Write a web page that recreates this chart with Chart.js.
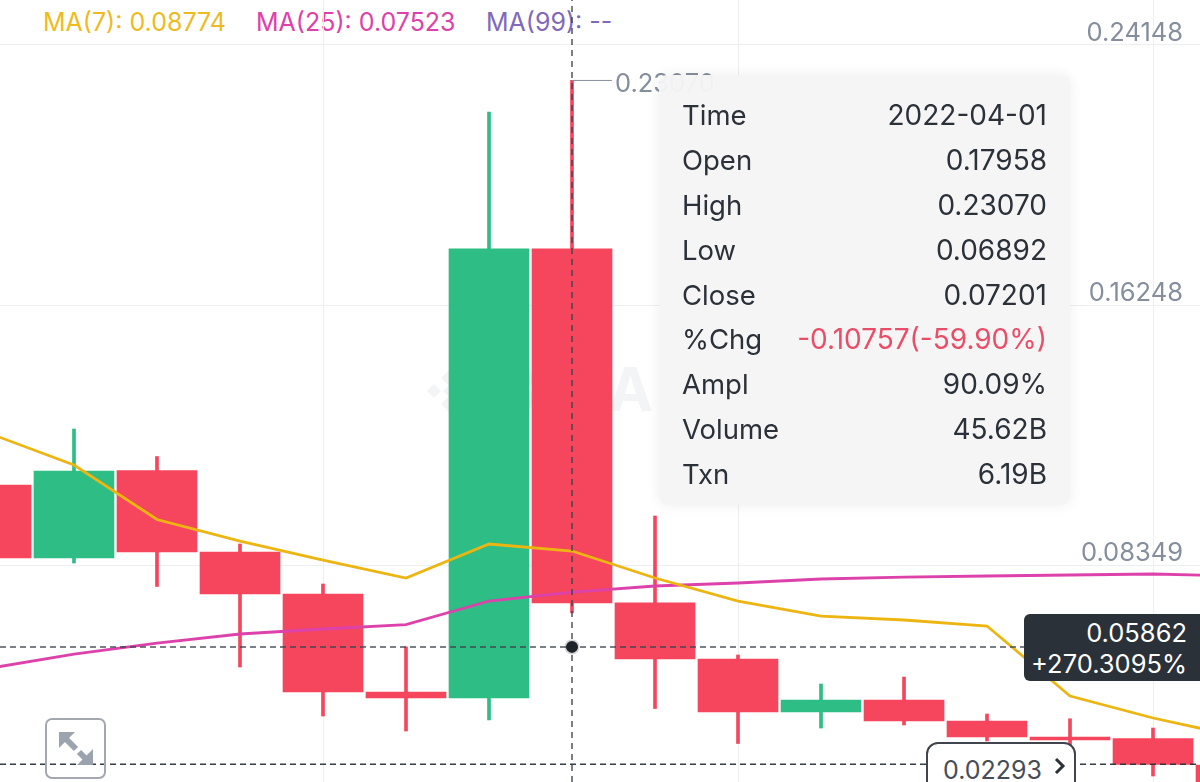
<!DOCTYPE html>
<html>
<head>
<meta charset="utf-8">
<title>Candles</title>
<script src="https://cdn.jsdelivr.net/npm/chart.js@4"></script>
<style>
	html, body { margin: 0; padding: 0; background: #fff; overflow: hidden; }
	body { width: 1200px; height: 782px; position: relative; font-family: Inter, sans-serif; }
	canvas { position: absolute; left: 0; top: 0; z-index: 1; }
	.mark { position: absolute; z-index: 0; color: #f3f4f5; }
	#logo { left: 426px; top: 368px; width: 46px; height: 46px; }
	#wordmark { left: 497px; top: 354px; font-size: 60px; font-weight: 700; letter-spacing: 3px; line-height: 70px; white-space: nowrap; }
	#legend { position: absolute; z-index: 0; left: 0; top: 0; font-size: 25px; line-height: 44px; white-space: nowrap; }
	#legend span { position: absolute; top: 0; }
	#highLabel { position: absolute; z-index: 2; left: 615px; top: 68px; font-size: 25.5px; line-height: 30px; color: #848e9c; }
	#panel { position: absolute; z-index: 3; left: 659px; top: 75px; width: 411px; height: 430px; box-sizing: border-box; padding: 18px 23px 0 23px; border-radius: 8px; background: rgba(245, 245, 246, 0.97); box-shadow: 0 0 14px rgba(30, 35, 41, 0.07); }
	#panel div { display: flex; justify-content: space-between; height: 44.9px; line-height: 45px; font-size: 27.5px; color: #2b3139; }
	#panel div span + span { font-size: 28px; }
	#tag { position: absolute; z-index: 3; left: 1024px; top: 614px; width: 176px; height: 67px; box-sizing: border-box; padding: 3px 13px 0 0; border-radius: 6px 0 0 6px; background: #2b3139; color: #fff; font-size: 25.5px; line-height: 31px; text-align: right; }
	#lastPrice { position: absolute; z-index: 3; left: 926px; top: 742px; width: 150px; height: 60px; box-sizing: border-box; padding: 9px 0 0 15px; border: 2px solid #3f444d; border-radius: 12px; background: #fff; color: #474d57; font-size: 25px; line-height: 34px; }
	#lastPrice svg { position: absolute; left: 125px; top: 12px; }
	#expand { position: absolute; z-index: 3; left: 45px; top: 718px; width: 61px; height: 61px; box-sizing: border-box; border: 2px solid #a3a8b0; border-radius: 7px; }
	#expand svg { position: absolute; left: -2px; top: -2px; }
</style>
</head>
<body>
<svg id="logo" class="mark" viewBox="0 0 46 46"><g fill="#f3f4f5"><path d="M23 2l8 8-8 8-8-8z"/><path d="M8 16l7 7-7 7-7-7z"/><path d="M23 28l8 8-8 8-8-8z"/><path d="M23 17l6 6-6 6-6-6z"/></g></svg>
<div id="wordmark" class="mark">BINANCE</div>
<div id="legend"></div>
<canvas id="candles" width="1200" height="782"></canvas>
<div id="highLabel"></div>
<div id="panel"></div>
<div id="tag"></div>
<div id="lastPrice"><svg width="14" height="20" viewBox="0 0 14 20"><path d="M3 3l7 7-7 7" fill="none" stroke="#2b3139" stroke-width="3"/></svg></div>
<div id="expand"><svg width="61" height="61" viewBox="0 0 61 61"><g fill="#9aa3ae" stroke="none"><path d="M14 14h16L14 30z"/><path d="M32 47h16V31z"/></g><g stroke="#9aa3ae" stroke-width="6"><path d="M21 21l10 10"/><path d="M34 34l8 8"/></g></svg></div>

<script>
const candleIndex = [0, 1, 2, 3, 4, 5, 6, 7, 8, 9, 10, 11, 12, 13, 14, 15];
const opens = [0.10779, 0.08562, 0.1122, 0.08744, 0.07468, 0.04491, 0.04308, 0.17958, 0.07201, 0.05493, 0.03883, 0.04248, 0.03609, 0.03123, 0.03078, 0.02272];
const closes = [0.08562, 0.11205, 0.08744, 0.07468, 0.04491, 0.04308, 0.17958, 0.07201, 0.05493, 0.03883, 0.04248, 0.03609, 0.03123, 0.03032, 0.02293, 0.015];
const highs = [0.1087, 0.12481, 0.11645, 0.08987, 0.07772, 0.05862, 0.22112, 0.2307, 0.09838, 0.05615, 0.04734, 0.04946, 0.03822, 0.03679, 0.03397, 0.02293];
const lows = [0.08562, 0.0841, 0.07696, 0.0525, 0.03761, 0.03306, 0.0364, 0.06892, 0.03989, 0.02926, 0.03397, 0.03488, 0.03002, 0.0288, 0.01939, 0.015];
const ma7 = [0.12329, 0.11387, 0.09731, 0.09078, 0.08501, 0.07954, 0.08987, 0.08774, 0.07954, 0.07255, 0.06799, 0.06678, 0.06496, 0.04369, 0.03701, 0.03154];
const ma25 = [0.0522, 0.05645, 0.05979, 0.06253, 0.06405, 0.06541, 0.07255, 0.07523, 0.07711, 0.07802, 0.07924, 0.07984, 0.08015, 0.08045, 0.08076, 0.08015];

const priceTicks = [0.24148, 0.16248, 0.08349];
const timeTicks = [4, 9, 14];
const crossPrice = 0.05862;
const crossIndex = 7;
const lastPrice = 0.02293;
const highPrice = 0.2307;

const legendItems = [
	["MA(7): 0.08774", "#edbb1e", 43],
	["MA(25): 0.07523", "#dd41aa", 256],
	["MA(99): --", "#8169b9", 486],
];
const panelLabels = ["Time", "Open", "High", "Low", "Close", "%Chg", "Ampl", "Volume", "Txn"];
const panelValues = ["2022-04-01", "0.17958", "0.23070", "0.06892", "0.07201", "-0.10757(-59.90%)", "90.09%", "45.62B", "6.19B"];

const UP = "#2ebd85";
const DOWN = "#f6465d";
const xMin = 0.1085;
const xMax = 14.566;
const yMin = 0.01757;
const yMax = 0.25514;

legendItems.forEach((item) => {
	const span = document.createElement("span");
	span.textContent = item[0];
	span.style.color = item[1];
	span.style.left = item[2] + "px";
	document.getElementById("legend").appendChild(span);
});

panelLabels.forEach((label, i) => {
	const row = document.createElement("div");
	const name = document.createElement("span");
	const value = document.createElement("span");
	name.textContent = label;
	value.textContent = panelValues[i];
	if (label === "%Chg") {
		value.style.color = "#ea4d68";
	}
	row.appendChild(name);
	row.appendChild(value);
	document.getElementById("panel").appendChild(row);
});

document.getElementById("highLabel").textContent = highPrice.toFixed(5);
document.getElementById("tag").innerHTML = crossPrice.toFixed(5) + "<br>+270.3095%";
document.getElementById("lastPrice").insertAdjacentText("afterbegin", lastPrice.toFixed(5));

const candleColors = opens.map((open, i) => (closes[i] >= open ? UP : DOWN));

const toPoints = (values) => values.map((y, i) => ({ x: candleIndex[i], y: y }));

const hLine = (price, color, order) => ({
	type: "line",
	data: [{ x: xMin, y: price }, { x: xMax, y: price }],
	borderColor: color,
	borderWidth: 1.5,
	borderDash: [6, 4],
	pointRadius: 0,
	order: order,
});

new Chart(document.getElementById("candles"), {
	type: "bar",
	data: {
		datasets: [
			{
				data: candleIndex.map((x, i) => ({ x: x, y: [opens[i], closes[i]] })),
				backgroundColor: candleColors,
				barThickness: 80,
				grouped: false,
				order: 8,
			},
			{
				data: candleIndex.map((x, i) => ({ x: x, y: [lows[i], highs[i]] })),
				backgroundColor: candleColors,
				barThickness: 3,
				grouped: false,
				order: 9,
			},
			{
				type: "line",
				data: toPoints(ma7),
				borderColor: "#edb512",
				borderWidth: 2.8,
				pointRadius: 0,
				tension: 0,
				order: 6,
			},
			{
				type: "line",
				data: toPoints(ma25),
				borderColor: "#dd41aa",
				borderWidth: 2.8,
				pointRadius: 0,
				tension: 0,
				order: 7,
			},
			hLine(crossPrice, "rgba(60, 65, 75, 0.9)", 4),
			hLine(lastPrice, "rgba(43, 49, 57, 0.95)", 5),
			{
				type: "line",
				data: [{ x: crossIndex, y: yMin }, { x: crossIndex, y: yMax }],
				borderColor: "rgba(60, 65, 75, 0.9)",
				borderWidth: 1.5,
				borderDash: [6, 5],
				pointRadius: 0,
				order: 3,
			},
			{
				// leader from the high of the hovered candle to its label
				type: "line",
				data: [{ x: crossIndex, y: highPrice }, { x: crossIndex + 0.48, y: highPrice }],
				borderColor: "#848e9c",
				borderWidth: 1,
				pointRadius: 0,
				order: 2,
			},
			{
				type: "line",
				data: [{ x: crossIndex, y: crossPrice }],
				pointRadius: 6,
				pointBackgroundColor: "#1e2329",
				pointBorderColor: "rgba(30, 35, 41, 0.2)",
				pointBorderWidth: 3,
				showLine: false,
				order: 1,
			},
		],
	},
	options: {
		responsive: false,
		animation: false,
		events: [],
		layout: { padding: 0, autoPadding: false },
		plugins: {
			legend: { display: false },
			tooltip: { enabled: false },
		},
		scales: {
			x: {
				type: "linear",
				min: xMin,
				max: xMax,
				offset: false,
				afterBuildTicks: (axis) => {
					axis.ticks = timeTicks.map((v) => ({ value: v }));
				},
				// plot must fill the whole page, the labels sit inside it
				afterFit: (axis) => {
					axis.height = 0;
					axis.paddingLeft = 0;
					axis.paddingRight = 0;
				},
				grid: { color: "#eceef1", offset: false, drawTicks: false },
				border: { display: false },
				ticks: { display: false },
			},
			y: {
				position: "right",
				min: yMin,
				max: yMax,
				afterBuildTicks: (axis) => {
					axis.ticks = priceTicks.map((v) => ({ value: v }));
				},
				afterFit: (axis) => {
					axis.width = 0;
					axis.paddingTop = 0;
					axis.paddingBottom = 0;
				},
				grid: { color: "#eceef1", drawTicks: false },
				border: { display: false },
				ticks: {
					mirror: true,
					padding: -17,
					labelOffset: -12,
					color: "#848e9c",
					font: { family: "Inter", size: 25.5 },
					callback: (v) => v.toFixed(5),
				},
			},
		},
	},
});
</script>
</body>
</html>
